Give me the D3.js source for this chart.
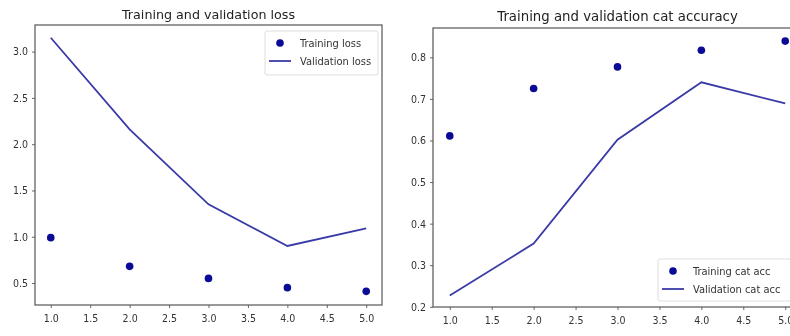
<!DOCTYPE html>
<html>
<head>
<meta charset="utf-8">
<script src="https://cdn.jsdelivr.net/npm/d3@7"></script>
<style>
  body { margin: 0; background: #fff; }
  svg { display: block; filter: blur(0.35px); }
  text { font-family: "DejaVu Sans", sans-serif; fill: #333; }
</style>
</head>
<body>
<div id="chart"></div>
<script>
// Data
const epochs = [1, 2, 3, 4, 5];
const trainLoss = [0.99, 0.68, 0.55, 0.45, 0.41];
const valLoss = [3.15, 2.16, 1.35, 0.90, 1.09];
const trainAcc = [0.611, 0.725, 0.777, 0.817, 0.839];
const valAcc = [0.227, 0.352, 0.602, 0.740, 0.689];
const xTicks = [1.0, 1.5, 2.0, 2.5, 3.0, 3.5, 4.0, 4.5, 5.0];
const lossTicks = [0.5, 1.0, 1.5, 2.0, 2.5, 3.0];
const accTicks = [0.2, 0.3, 0.4, 0.5, 0.6, 0.7, 0.8];

const dotColor = '#0a0a96';
const lineColor = '#3a3aa6';
const condensed = '"DejaVu Sans Condensed", "DejaVu Sans", sans-serif';

const svg = d3.select('#chart')
    .append('svg')
    .attr('width', 790)
    .attr('height', 336);

// Draw one matplotlib-like panel
function panel(opts) {
    const { left, top, right, bottom } = opts.box;
    const x = d3.scaleLinear().domain([0.8, 5.2]).range([left, right]);
    const y = d3.scaleLinear().domain(opts.yDomain).range([bottom, top]);

    const g = svg.append('g');

    // title
    g.append('text')
        .attr('x', (left + right) / 2)
        .attr('y', opts.titleY)
        .attr('text-anchor', 'middle')
        .style('font-size', opts.titleSize)
        .style('fill', '#222')
        .text(opts.title);

    // axes
    const xAxis = d3.axisBottom(x).tickValues(xTicks).tickFormat(d3.format('.1f')).tickSize(3).tickPadding(7);
    const yAxis = d3.axisLeft(y).tickValues(opts.yTicks).tickFormat(d3.format('.1f')).tickSize(3).tickPadding(4);

    g.append('g')
        .attr('transform', `translate(0,${bottom})`)
        .call(xAxis)
        .call(s => s.select('.domain').remove());
    g.append('g')
        .attr('transform', `translate(${left},0)`)
        .call(yAxis)
        .call(s => s.select('.domain').remove());

    g.selectAll('.tick line').attr('stroke', '#666');
    g.selectAll('.tick text')
        .style('font-size', '10.5px')
        .style('font-family', condensed)
        .attr('fill', '#444');

    // frame
    g.append('rect')
        .attr('x', left)
        .attr('y', top)
        .attr('width', right - left)
        .attr('height', bottom - top)
        .attr('fill', 'none')
        .attr('stroke', '#555')
        .attr('stroke-width', 1.2);

    // validation line
    const line = d3.line()
        .x((d, i) => x(epochs[i]))
        .y(d => y(d));
    g.append('path')
        .datum(opts.val)
        .attr('d', line)
        .attr('fill', 'none')
        .attr('stroke', lineColor)
        .attr('stroke-width', 1.8);

    // training dots
    g.selectAll('circle.train')
        .data(opts.train)
        .enter()
        .append('circle')
        .attr('class', 'train')
        .attr('cx', (d, i) => x(epochs[i]))
        .attr('cy', d => y(d))
        .attr('r', 3.8)
        .attr('fill', dotColor);

    // legend
    const lg = opts.legend;
    g.append('rect')
        .attr('x', lg.x)
        .attr('y', lg.y)
        .attr('width', lg.w)
        .attr('height', lg.h)
        .attr('rx', 2)
        .attr('fill', '#fff')
        .attr('stroke', '#ddd');
    g.append('circle')
        .attr('cx', lg.x + 15)
        .attr('cy', lg.y + 12)
        .attr('r', 3.8)
        .attr('fill', dotColor);
    g.append('line')
        .attr('x1', lg.x + 4)
        .attr('x2', lg.x + 26)
        .attr('y1', lg.y + 30)
        .attr('y2', lg.y + 30)
        .attr('stroke', lineColor)
        .attr('stroke-width', 1.8);
    g.append('text')
        .attr('x', lg.x + 35)
        .attr('y', lg.y + 16)
        .style('font-size', '11px')
        .style('font-family', condensed)
        .text(opts.labels[0]);
    g.append('text')
        .attr('x', lg.x + 35)
        .attr('y', lg.y + 34)
        .style('font-size', '11px')
        .style('font-family', condensed)
        .text(opts.labels[1]);
}

panel({
    box: { left: 35, top: 25, right: 382, bottom: 305 },
    yDomain: [0.2625, 3.2875],
    yTicks: lossTicks,
    title: 'Training and validation loss',
    titleY: 19,
    titleSize: '12.7px',
    train: trainLoss,
    val: valLoss,
    labels: ['Training loss', 'Validation loss'],
    legend: { x: 265, y: 31, w: 113, h: 44 }
});

panel({
    box: { left: 433, top: 28, right: 802, bottom: 307 },
    yDomain: [0.1995, 0.8705],
    yTicks: accTicks,
    title: 'Training and validation cat accuracy',
    titleY: 21,
    titleSize: '13.3px',
    train: trainAcc,
    val: valAcc,
    labels: ['Training cat acc', 'Validation cat acc'],
    legend: { x: 658, y: 259, w: 140, h: 42 }
});
</script>
</body>
</html>
